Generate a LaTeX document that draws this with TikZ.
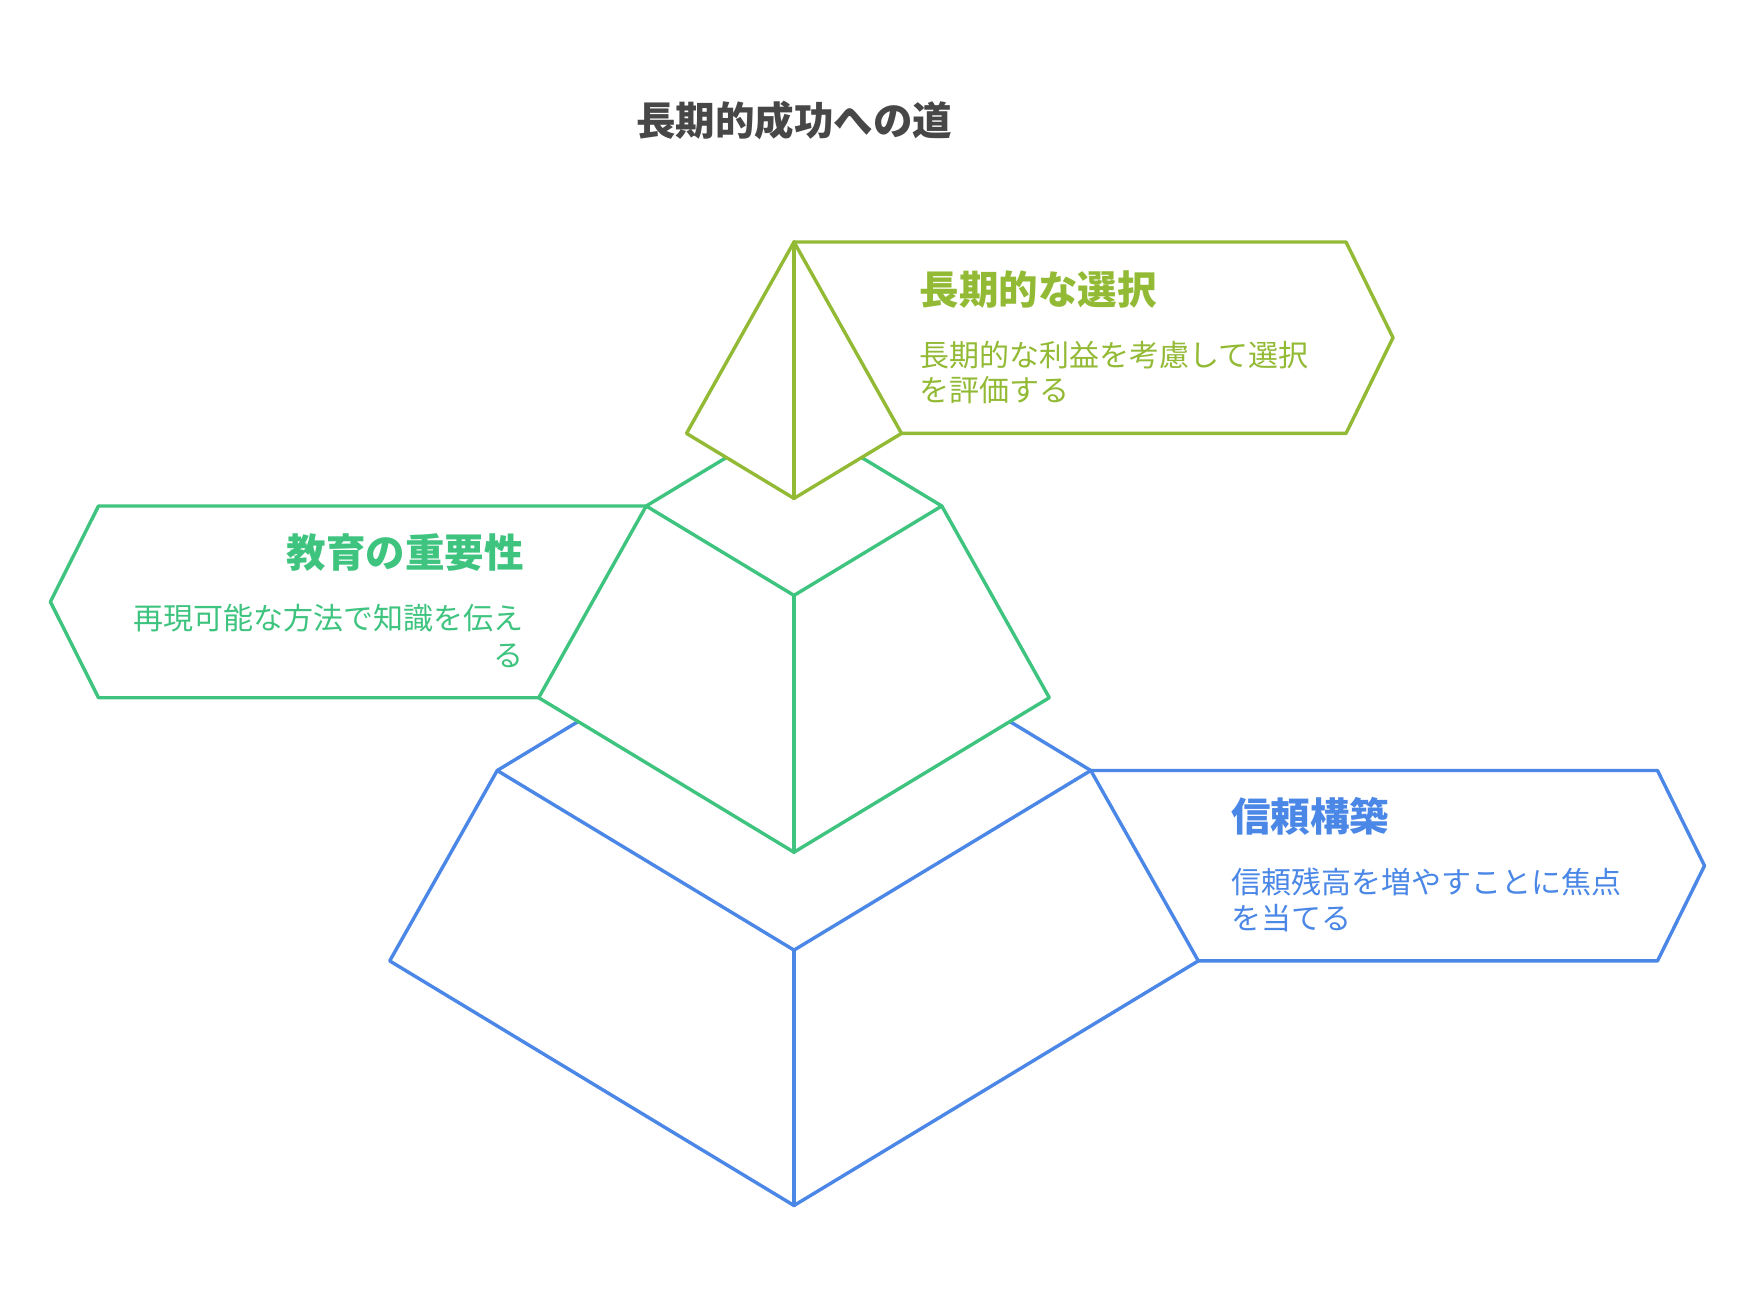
\documentclass[tikz,border=0pt]{standalone}
\usepackage{fontspec}
\setmainfont{Noto Sans CJK JP}
\definecolor{titlegray}{HTML}{474747}
\definecolor{topgreen}{HTML}{93BA35}
\definecolor{midgreen}{HTML}{3EC47F}
\definecolor{baseblue}{HTML}{4A87E6}
\begin{document}
\begin{tikzpicture}[x=0.5pt,y=-0.5pt,
  edge/.style={line width=1.7pt,line join=round,line cap=round},
  headtext/.style={inner sep=0pt,font=\fontsize{19.75}{23}\selectfont\bfseries},
  bodytext/.style={inner sep=0pt,font=\fontsize{15}{17.5}\selectfont}]
\fill[white] (0,0) rectangle (1756,1306);
\useasboundingbox (0,0) rectangle (1756,1306);

% ---- title
\node[headtext,text=titlegray,anchor=base] (title) at (794,135) {長期的成功への道};

% ---- bottom layer (blue)
\coordinate (bTL) at (497.2,770.5);
\coordinate (bTR) at (1090.8,770.5);
\coordinate (bF) at (794,950.1);
\coordinate (bB) at (794,590.9);
\coordinate (bBL) at (389.7,960.9);
\coordinate (bBR) at (1198.3,960.9);
\coordinate (bBot) at (794,1205.5);
\coordinate (bx1) at (1657.5,770.5);
\coordinate (bx2) at (1704.5,865.7);
\coordinate (bx3) at (1657.5,960.9);
\draw[edge,baseblue] (bTL)--(bB)--(bTR);
\draw[edge,baseblue] (bTL)--(bF)--(bTR);
\draw[edge,baseblue] (bF)--(bBot);
\draw[edge,baseblue] (bTL)--(bBL)--(bBot)--(bBR)--(bTR);
\draw[edge,baseblue] (bTR)--(bx1)--(bx2)--(bx3)--(bBR);

% ---- middle layer (green)
\coordinate (mTL) at (646.2,506);
\coordinate (mTR) at (941.8,506);
\coordinate (mF) at (794,595.4);
\coordinate (mB) at (794,416.6);
\coordinate (mBL) at (538.7,697.7);
\coordinate (mBR) at (1049.3,697.7);
\coordinate (mBot) at (794,852.2);
\coordinate (mx1) at (98.5,506);
\coordinate (mx2) at (50.4,601.8);
\coordinate (mx3) at (98.5,697.7);
\fill[white] (mTL)--(mB)--(mTR)--(mBR)--(mBot)--(mBL)--cycle;
\draw[edge,midgreen] (mTL)--(mB)--(mTR);
\draw[edge,midgreen] (mTL)--(mF)--(mTR);
\draw[edge,midgreen] (mF)--(mBot);
\draw[edge,midgreen] (mTL)--(mBL)--(mBot)--(mBR)--(mTR);
\draw[edge,midgreen] (mTL)--(mx1)--(mx2)--(mx3)--(mBL);

% ---- top layer (olive green)
\coordinate (tA) at (794,242);
\coordinate (tL) at (686.5,433.4);
\coordinate (tR) at (901.5,433.4);
\coordinate (tBot) at (794,498.4);
\coordinate (tx1) at (1346,242);
\coordinate (tx2) at (1393,337.7);
\coordinate (tx3) at (1346,433.4);
\fill[white] (tA)--(tL)--(tBot)--(tR)--cycle;
\draw[edge,topgreen] (tA)--(tL)--(tBot)--(tR)--cycle;
\draw[edge,topgreen] (tA)--(tBot);
\draw[edge,topgreen] (tA)--(tx1)--(tx2)--(tx3)--(tR);

% ---- texts
\node[headtext,text=topgreen,anchor=base west] (h1) at (919.4,304) {長期的な選択};
\node[bodytext,text=topgreen,anchor=base west] (b1a) at (919.4,366.4) {長期的な利益を考慮して選択};
\node[bodytext,text=topgreen,anchor=base west] (b1b) at (919.4,401.1) {を評価する};

\node[headtext,text=midgreen,anchor=base east] (h2) at (524.1,567) {教育の重要性};
\node[bodytext,text=midgreen,anchor=base east] (b2a) at (524.1,629.4) {再現可能な方法で知識を伝え};
\node[bodytext,text=midgreen,anchor=base east] (b2b) at (524.1,666.4) {る};

\node[headtext,text=baseblue,anchor=base west] (h3) at (1230.8,831.4) {信頼構築};
\node[bodytext,text=baseblue,anchor=base west] (b3a) at (1230.8,893.9) {信頼残高を増やすことに焦点};
\node[bodytext,text=baseblue,anchor=base west] (b3b) at (1230.8,929.4) {を当てる};
\end{tikzpicture}
\end{document}
